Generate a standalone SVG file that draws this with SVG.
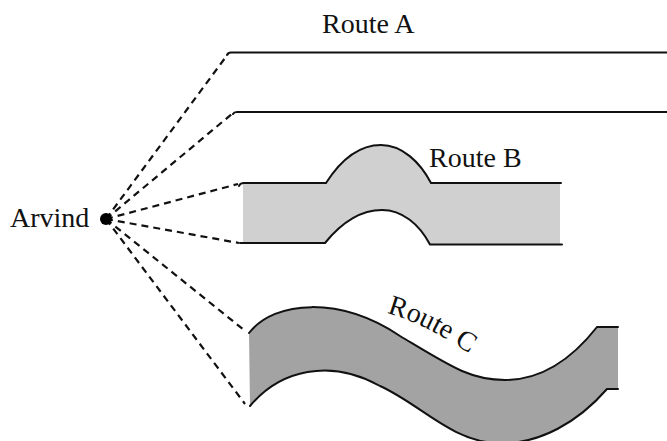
<svg xmlns="http://www.w3.org/2000/svg" width="667" height="441" viewBox="0 0 667 441">
<style>
.lbl{font-family:"Liberation Serif","Times New Roman",serif;font-size:28px;fill:#111}
.edge{fill:none;stroke:#111;stroke-width:2;stroke-linecap:round}
.dash{fill:none;stroke:#111;stroke-width:2.2;stroke-dasharray:7 5}
</style>
<rect width="667" height="441" fill="#fff"/>
<g id="connectors">
<line class="dash" x1="106" y1="219" x2="228" y2="54"/>
<line class="dash" x1="106" y1="219" x2="233" y2="113"/>
<line class="dash" x1="106" y1="219" x2="238" y2="184"/>
<line class="dash" x1="106" y1="219" x2="239" y2="243"/>
<line class="dash" x1="106" y1="219" x2="244" y2="330"/>
<line class="dash" x1="106" y1="219" x2="245" y2="404"/>
</g>
<g id="arvind">
<circle cx="106" cy="219" r="6" fill="#000"/>
<text class="lbl" x="10" y="227">Arvind</text>
</g>
<g id="routeA">
<path class="edge" d="M227 55 Q228 52.5 231 52.5 L667 52.5"/>
<path class="edge" d="M233 114 Q234 112 237 112 L667 112"/>
<text class="lbl" x="322" y="33">Route A</text>
</g>
<g id="routeB">
<path fill="#d0d0d0" d="M243 183 L326 183 C342 158 360 145 381 145 C402 145 420 162 431 183 L560 183 L560 244.5 L430 244.5 C419 224 402 210 382 210 C362 210 342 222 325 243 L243 243 Z"/>
<path class="edge" d="M239 186 Q240 183 244 183 L326 183 C342 158 360 145 381 145 C402 145 420 162 431 183 L561 183"/>
<path class="edge" d="M240 243 L325 243 C342 222 362 210 382 210 C402 210 419 224 430 244.5 L562 244.5"/>
<text class="lbl" x="429" y="167">Route B</text>
</g>
<g id="routeC">
<path fill="#a3a3a3" d="M249 333 C275 300 340 296 400 336 C450 366 470 380 505 380 C545 380 575 355 597 327 L618 327 L618 389 L607 389 C580 420 540 446 495 443 C450 440 420 404 380 386 C330 358 280 370 250 406 Z"/>
<path class="edge" d="M249 333 C275 300 340 296 400 336 C450 366 470 380 505 380 C545 380 575 355 597 327 L618 327"/>
<path class="edge" d="M250 406 C280 370 330 358 380 386 C420 404 450 440 495 443 C540 446 580 420 607 389 L618 389"/>
<path id="cpath" fill="none" d="M387 313 C412 320 440 333 482 362"/>
<text class="lbl"><textPath href="#cpath">Route C</textPath></text>
</g>
</svg>
